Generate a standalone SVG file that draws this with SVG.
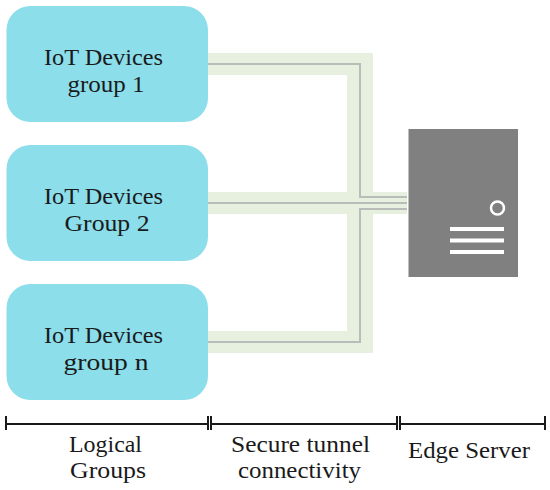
<svg xmlns="http://www.w3.org/2000/svg" width="550" height="490" viewBox="0 0 550 490">
<style>
.n{fill:#8bdeea}
.t{font-family:"Liberation Serif",serif;font-size:24px;fill:#1a1a1a;text-anchor:middle}
.band{fill:#e7f0df}
.wire{fill:none;stroke:#b9bdb9;stroke-width:2}
.b{fill:none;stroke:#1a1a1a;stroke-width:2}
.s{fill:#fff}
</style>
<g id="connectors">
<rect class="band" x="208" y="53" width="165" height="22"/>
<rect class="band" x="347" y="53" width="26" height="300"/>
<rect class="band" x="208" y="331" width="165" height="22"/>
<rect class="band" x="208" y="192" width="199" height="22"/>
<path class="wire" d="M208 64H360V197H407"/>
<path class="wire" d="M208 203H407"/>
<path class="wire" d="M208 342H360V209H407"/>
</g>
<g id="group1"><rect class="n" x="6.5" y="6" width="201.500" height="116" rx="24"/>
<text class="t" x="103.500" y="65" textLength="119" lengthAdjust="spacingAndGlyphs">IoT Devices</text><text class="t" x="106" y="92" textLength="77" lengthAdjust="spacingAndGlyphs">group 1</text></g>
<g id="group2"><rect class="n" x="6.5" y="145" width="201.500" height="116" rx="24"/>
<text class="t" x="103.500" y="204" textLength="119" lengthAdjust="spacingAndGlyphs">IoT Devices</text><text class="t" x="107" y="231" textLength="85" lengthAdjust="spacingAndGlyphs">Group 2</text></g>
<g id="group3"><rect class="n" x="6.5" y="284" width="201.500" height="116" rx="24"/>
<text class="t" x="103.500" y="343" textLength="119" lengthAdjust="spacingAndGlyphs">IoT Devices</text><text class="t" x="106" y="370" textLength="85" lengthAdjust="spacingAndGlyphs">group n</text></g>
<g id="server"><rect x="408.500" y="129" width="109.500" height="148" fill="#808080"/>
<circle cx="497.500" cy="208" r="6.500" fill="none" stroke="#fff" stroke-width="2.500"/>
<rect class="s" x="450" y="227" width="54" height="4"/><rect class="s" x="450" y="238.500" width="54" height="4"/><rect class="s" x="450" y="250" width="54" height="4"/></g>
<g id="logical"><path class="b" d="M6 416V430M6 424H208M208 416V430"/>
<text class="t" x="105.500" y="452" textLength="73" lengthAdjust="spacingAndGlyphs">Logical</text><text class="t" x="108" y="478" textLength="76" lengthAdjust="spacingAndGlyphs">Groups</text></g>
<g id="tunnel"><path class="b" d="M211 416V430M211 424H397M397 416V430"/>
<text class="t" x="300.500" y="452" textLength="139" lengthAdjust="spacingAndGlyphs">Secure tunnel</text><text class="t" x="299.500" y="478" textLength="123" lengthAdjust="spacingAndGlyphs">connectivity</text></g>
<g id="edge"><path class="b" d="M400 416V430M400 424H545M545 416V430"/>
<text class="t" x="469" y="458" textLength="122" lengthAdjust="spacingAndGlyphs">Edge Server</text></g>
</svg>
